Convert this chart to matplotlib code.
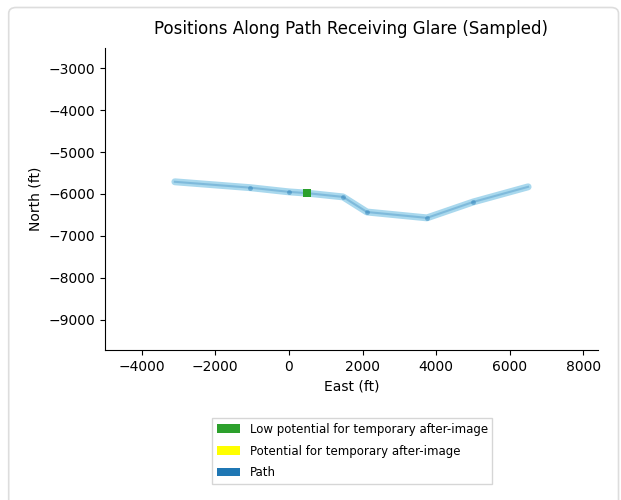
import matplotlib
matplotlib.use("Agg")
import matplotlib.pyplot as plt
from matplotlib.patches import Patch, FancyBboxPatch

# Path vertices (feet)
path_east = [-3100, -1050, 0, 490, 1470, 2120, 3750, 5010, 6500]
path_north = [-5710, -5850, -5950, -5980, -6070, -6430, -6570, -6190, -5830]

# Sampled positions receiving glare
glare_low_east = [490]
glare_low_north = [-5980]

x_ticks = [-4000, -2000, 0, 2000, 4000, 6000, 8000]
y_ticks = [-3000, -4000, -5000, -6000, -7000, -8000, -9000]

legend_labels = ["Low potential for temporary after-image",
                 "Potential for temporary after-image",
                 "Path"]
legend_colors = ["#2ca02c", "#ffff00", "#1f77b4"]

fig = plt.figure(figsize=(6.21, 5.0), dpi=100)

# rounded card outline around the figure
card = FancyBboxPatch((0.014, -0.05), 0.982, 1.035,
                      boxstyle="round,pad=0,rounding_size=0.012",
                      transform=fig.transFigure, facecolor="white",
                      edgecolor="#dddddd", linewidth=1.2, zorder=-10)
fig.patches.append(card)

ax = fig.add_axes([0.169, 0.30, 0.794, 0.604])
ax.set_facecolor("none")

ax.plot(path_east, path_north, color="#8ccbe8", alpha=0.75, linewidth=5,
        solid_capstyle="round", solid_joinstyle="round", zorder=2)
ax.plot(path_east, path_north, color="#1f77b4", alpha=0.30, linewidth=1.5, zorder=3)
ax.scatter(path_east[1:-1], path_north[1:-1], s=12, color="#1f77b4", alpha=0.45,
           linewidths=0, zorder=4)
ax.scatter(glare_low_east, glare_low_north, s=30, marker="s", color="#2ca02c",
           linewidths=0, zorder=5)

ax.set_xlim(-5000, 8400)
ax.set_ylim(-9720, -2520)
ax.set_xticks(x_ticks)
ax.set_yticks(y_ticks)
ax.tick_params(labelsize=10)
for side in ("top", "right"):
    ax.spines[side].set_visible(False)

ax.set_title("Positions Along Path Receiving Glare (Sampled)", fontsize=12, pad=10)
ax.set_xlabel("East (ft)", fontsize=10)
ax.set_ylabel("North (ft)", fontsize=10)

handles = [Patch(facecolor=c, edgecolor="none") for c in legend_colors]
fig.legend(handles, legend_labels, loc="center", bbox_to_anchor=(0.567, 0.098),
           fontsize=8.5, frameon=True, fancybox=False, edgecolor="#cccccc",
           handlelength=2.0, handleheight=0.7, labelspacing=0.75)

fig.savefig("out.png", dpi=100)
